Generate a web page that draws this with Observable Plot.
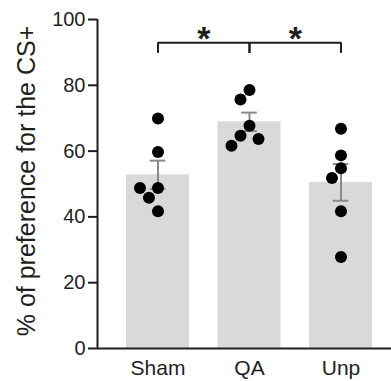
<!DOCTYPE html>
<html><head><meta charset="utf-8">
<script src="https://cdn.jsdelivr.net/npm/d3@7"></script>
<script src="https://cdn.jsdelivr.net/npm/@observablehq/plot@0.6"></script>
<style>body{margin:0;background:#fff}</style>
</head><body><div id="chart"></div>
<script>
// ---- data ----
const groups = ["Sham", "QA", "Unp"];
const shamValues = [69.9, 59.7, 48.8, 48.8, 45.8, 41.7];
const qaValues = [78.6, 75.7, 67.7, 64.7, 63.7, 61.6];
const unpValues = [66.8, 58.7, 54.8, 51.8, 41.7, 27.8];
const means = [52.8, 68.9, 50.5];
const sems = [4.3, 2.8, 5.6];
const yTicks = [0, 20, 40, 60, 80, 100];
const comparisons = [
  {from: "Sham", to: "QA", label: "*"},
  {from: "QA", to: "Unp", label: "*"}
];
const yLabel = "% of preference for the CS+";

// ---- layout ----
const W = 391, H = 381;
const mL = 97, mR = 0, mT = 19, mB = 33;
const xMin = -0.661, xMax = 2.552;
const halfBar = 0.344, capHalf = 0.085;
const bracketY = 92.9, bracketDrop = 3.2;
const dotR = 6;

const kx = (W - mL - mR) / (xMax - xMin);
const ky = (H - mT - mB) / 100;

// simple beeswarm layout in pixel space (columns ~9px apart)
function swarm(values) {
  const placed = [];
  const col = 9, minD = 12.5;
  return values.map(v => {
    const py = v * ky;
    for (const k of [0, -1, 1, -2, 2, -3, 3, -4, 4]) {
      const px = k * col;
      if (placed.every(p => Math.hypot(p.x - px, p.y - py) >= minD)) {
        placed.push({x: px, y: py});
        return px / kx;
      }
    }
    return 0;
  });
}

const seriesValues = [shamValues, qaValues, unpValues];
const points = seriesValues.flatMap((vals, i) => {
  const offs = swarm(vals);
  return vals.map((v, j) => ({group: groups[i], i, value: v, x: i + offs[j]}));
});
const bars = groups.map((g, i) => ({group: g, i, mean: means[i], sem: sems[i]}));
const caps = bars.flatMap(d => [{i: d.i, y: d.mean - d.sem}, {i: d.i, y: d.mean + d.sem}]);
const idx = g => groups.indexOf(g);
const drops = comparisons.flatMap(c => [idx(c.from), idx(c.to)]);

const ink = "#1f1f1f";

const plot = Plot.plot({
  width: W, height: H,
  marginLeft: mL, marginRight: mR, marginTop: mT, marginBottom: mB,
  style: {fontFamily: "'Liberation Sans', Arial, sans-serif", color: ink, background: "#fff"},
  x: {domain: [xMin, xMax]},
  y: {domain: [0, 100]},
  marks: [
    Plot.rectY(bars, {x1: d => d.i - halfBar, x2: d => d.i + halfBar, y1: 0, y2: "mean", fill: "#d9d9d9"}),
    Plot.ruleX(bars, {x: "i", y1: d => d.mean - d.sem, y2: d => d.mean + d.sem, stroke: "#8a8a8a", strokeWidth: 2}),
    Plot.ruleY(caps, {x1: d => d.i - capHalf, x2: d => d.i + capHalf, y: "y", stroke: "#8a8a8a", strokeWidth: 2}),
    Plot.dot(points, {x: "x", y: "value", r: dotR, fill: "#000", stroke: "none"}),
    Plot.ruleY([0], {stroke: ink, strokeWidth: 2}),
    Plot.ruleX([xMin], {y1: 0, y2: 100, stroke: ink, strokeWidth: 2}),
    Plot.link(comparisons, {x1: d => idx(d.from), x2: d => idx(d.to), y1: bracketY, y2: bracketY, stroke: ink, strokeWidth: 2}),
    Plot.ruleX(drops, {x: d => d, y1: bracketY - bracketDrop, y2: bracketY, stroke: ink, strokeWidth: 2}),
    Plot.text(comparisons, {x: d => (idx(d.from) + idx(d.to)) / 2, y: bracketY, text: "label", fontSize: 34, fontWeight: "bold", lineAnchor: "bottom", dy: 7, fill: ink}),
    Plot.axisY({ticks: yTicks, tickSize: 9, tickPadding: 3, fontSize: 20, label: null, strokeWidth: 2}),
    Plot.axisX({ticks: [0, 1, 2], tickFormat: i => groups[i], tickSize: 0, tickPadding: 12, fontSize: 21, label: null}),
    Plot.text([yLabel], {frameAnchor: "left", textAnchor: "middle", rotate: -90, dx: -71, dy: -3, fontSize: 25, fill: ink})
  ]
});
document.getElementById("chart").appendChild(plot);
</script>
</body></html>
